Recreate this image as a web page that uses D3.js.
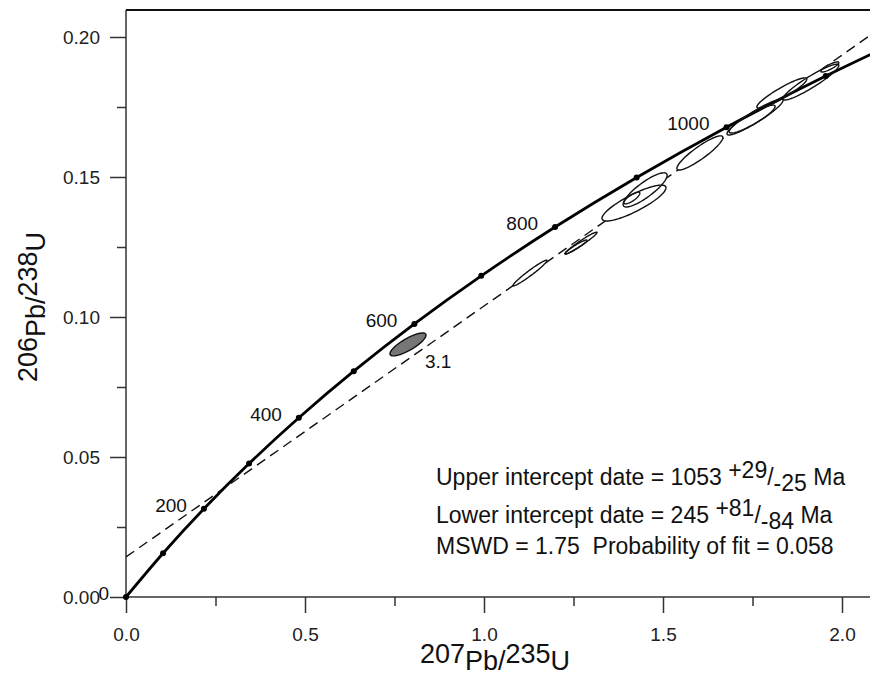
<!DOCTYPE html>
<html>
<head>
<meta charset="utf-8">
<script src="https://cdn.jsdelivr.net/npm/d3@7"></script>
<style>
  body { margin: 0; background: #fff; }
  svg { font-family: "Liberation Sans", Arial, sans-serif; }
</style>
</head>
<body>
<svg id="chart" width="870" height="678"></svg>
<script>
// concordia ages (Ma) and their ratios
const ages = [0, 100, 200, 300, 400, 500, 600, 700, 800, 900, 1000, 1100, 1200];
const concX = [0, 0.1035, 0.2177, 0.3438, 0.4828, 0.6362, 0.8055, 0.9923, 1.1985, 1.4264, 1.6774, 1.9546, 2.2604];
const concY = [0, 0.01563, 0.03151, 0.04764, 0.06402, 0.08065, 0.09754, 0.11470, 0.13213, 0.14983, 0.16780, 0.18605, 0.20459];
const labelAges = [0, 200, 400, 600, 800, 1000];

// discordia line through the intercepts
const discX = [0, 2.1];
const discY = [0.0143, 0.2025];

// error ellipses: centre, sizes, correlation
const ellX   = [0.7877, 1.1285, 1.271, 1.257, 1.419, 1.450, 1.413, 1.603, 1.757, 1.749, 1.832, 1.913, 1.966];
const ellY   = [0.0902, 0.1157, 0.1264, 0.1250, 0.1407, 0.1454, 0.1425, 0.1586, 0.1714, 0.1707, 0.1800, 0.1839, 0.1893];
const ellSx  = [0.0503, 0.0475, 0.0447, 0.0307, 0.0894, 0.0615, 0.0223, 0.0642, 0.0782, 0.0642, 0.0698, 0.0782, 0.0251];
const ellSy  = [0.0041, 0.0046, 0.0039, 0.0025, 0.0064, 0.0061, 0.0021, 0.0061, 0.0064, 0.0050, 0.0054, 0.0064, 0.0018];
const ellRho = [0.81, 0.97, 0.97, 0.95, 0.85, 0.85, 0.80, 0.90, 0.93, 0.90, 0.92, 0.93, 0.85];
const ellFilled = [true, false, false, false, false, false, false, false, false, false, false, false, false];
const ellLabel = "3.1";

const xTicks = [0, 0.5, 1.0, 1.5, 2.0];
const xMinor = [0.25, 0.75, 1.25, 1.75];
const yTicks = [0, 0.05, 0.10, 0.15, 0.20];
const yMinor = [0.025, 0.075, 0.125, 0.175];

const mLeft = 126, mTop = 10, mBottom = 597, mRight = 870;

const x = d3.scaleLinear().domain([0, 2]).range([mLeft, 842]);
const y = d3.scaleLinear().domain([0, 0.2]).range([mBottom, 37]);

const svg = d3.select("#chart");

svg.append("defs").append("clipPath").attr("id", "plot")
  .append("rect").attr("x", mLeft).attr("y", mTop).attr("width", mRight - mLeft).attr("height", mBottom - mTop);

// axes
function styleAxis(g) {
  g.select(".domain").remove();
  g.selectAll(".tick line").attr("stroke", "#333").attr("stroke-width", 1.5);
  g.selectAll(".tick text").attr("fill", "#222").style("font-size", "19px");
}

svg.append("g").attr("transform", `translate(0,${mBottom})`)
  .call(d3.axisBottom(x).tickValues(xTicks).tickFormat(d3.format(".1f")).tickSize(16).tickPadding(15))
  .call(styleAxis);
svg.append("g").attr("transform", `translate(0,${mBottom})`)
  .call(d3.axisBottom(x).tickValues(xMinor).tickFormat("").tickSize(9))
  .call(styleAxis);
svg.append("g").attr("transform", `translate(${mLeft},0)`)
  .call(d3.axisLeft(y).tickValues(yTicks).tickFormat(d3.format(".2f")).tickSize(16).tickPadding(10))
  .call(styleAxis);
svg.append("g").attr("transform", `translate(${mLeft},0)`)
  .call(d3.axisLeft(y).tickValues(yMinor).tickFormat("").tickSize(9))
  .call(styleAxis);

svg.append("line").attr("x1", mLeft).attr("x2", mRight).attr("y1", mBottom).attr("y2", mBottom)
  .attr("stroke", "#333").attr("stroke-width", 1.5);
svg.append("line").attr("x1", mLeft).attr("x2", mLeft).attr("y1", mTop).attr("y2", mBottom)
  .attr("stroke", "#333").attr("stroke-width", 1.5);
svg.append("line").attr("x1", mLeft).attr("x2", mRight).attr("y1", mTop).attr("y2", mTop)
  .attr("stroke", "#111").attr("stroke-width", 2);

const plot = svg.append("g").attr("clip-path", "url(#plot)");

// discordia
plot.append("path")
  .datum(discX.map((d, i) => [d, discY[i]]))
  .attr("d", d3.line().x(d => x(d[0])).y(d => y(d[1])))
  .attr("fill", "none").attr("stroke", "#111").attr("stroke-width", 1.4)
  .attr("stroke-dasharray", "10,6");

// ellipses
const ellipses = ellX.map((cx, i) => {
  const pts = [];
  const r = ellRho[i], s = Math.sqrt(1 - r * r);
  for (let k = 0; k < 72; k++) {
    const t = k / 72 * 2 * Math.PI;
    pts.push([cx + ellSx[i] * Math.cos(t), ellY[i] + ellSy[i] * (r * Math.cos(t) + s * Math.sin(t))]);
  }
  return { pts: pts, filled: ellFilled[i], cx: cx, cy: ellY[i] };
});
const ellLine = d3.line().x(d => x(d[0])).y(d => y(d[1])).curve(d3.curveLinearClosed);

plot.selectAll(".ell-fill").data(ellipses).join("path")
  .attr("class", "ell-fill")
  .attr("d", d => ellLine(d.pts))
  .attr("fill", d => d.filled ? "#767676" : "#fff")
  .attr("stroke", "none");

// concordia
const conc = ages.map((a, i) => ({ age: a, x: concX[i], y: concY[i] }));
plot.append("path")
  .datum(conc)
  .attr("d", d3.line().x(d => x(d.x)).y(d => y(d.y)).curve(d3.curveNatural))
  .attr("fill", "none").attr("stroke", "#000").attr("stroke-width", 2.8);

plot.selectAll(".ell-line").data(ellipses).join("path")
  .attr("class", "ell-line")
  .attr("d", d => ellLine(d.pts))
  .attr("fill", "none")
  .attr("stroke", "#111").attr("stroke-width", 1.4);

svg.selectAll(".age-dot").data(conc.filter(d => d.x <= 2.07)).join("circle")
  .attr("class", "age-dot")
  .attr("cx", d => x(d.x)).attr("cy", d => y(d.y)).attr("r", 3)
  .attr("fill", "#000");

svg.selectAll(".age-label").data(conc.filter(d => labelAges.includes(d.age))).join("text")
  .attr("class", "age-label")
  .attr("x", d => x(d.x) - 17).attr("y", d => y(d.y) + 3)
  .attr("text-anchor", "end")
  .style("font-size", "19px").attr("fill", "#111")
  .text(d => d.age);

// label of the filled ellipse
const fe = ellipses.find(d => d.filled);
svg.append("text")
  .attr("x", x(fe.cx) + 17).attr("y", y(fe.cy) + 24)
  .style("font-size", "19px").attr("fill", "#111")
  .text(ellLabel);

// axis titles
const xt = svg.append("text")
  .attr("x", 495).attr("y", 663)
  .attr("text-anchor", "middle").style("font-size", "27px").attr("fill", "#111");
xt.append("tspan").text("207");
xt.append("tspan").attr("dy", 7).text("Pb/");
xt.append("tspan").attr("dy", -7).text("235");
xt.append("tspan").attr("dy", 7).text("U");

const yt = svg.append("text")
  .attr("transform", "translate(45,307) rotate(-90)")
  .attr("y", -8)
  .attr("text-anchor", "middle").style("font-size", "27px").attr("fill", "#111");
yt.append("tspan").text("206");
yt.append("tspan").attr("dy", 8).text("Pb/");
yt.append("tspan").attr("dy", -8).text("238");
yt.append("tspan").attr("dy", 8).text("U");

// result text
const note = svg.append("g").style("font-size", "23px").attr("fill", "#111");
const l1 = note.append("text").attr("x", 436).attr("y", 485);
l1.append("tspan").text("Upper intercept date = 1053 ");
l1.append("tspan").attr("dy", -7).text("+29");
l1.append("tspan").attr("dy", 7).text("/");
l1.append("tspan").attr("dy", 6).text("-25");
l1.append("tspan").attr("dy", -6).text(" Ma");
const l2 = note.append("text").attr("x", 436).attr("y", 523);
l2.append("tspan").text("Lower intercept date = 245 ");
l2.append("tspan").attr("dy", -7).text("+81");
l2.append("tspan").attr("dy", 7).text("/");
l2.append("tspan").attr("dy", 6).text("-84");
l2.append("tspan").attr("dy", -6).text(" Ma");
note.append("text").attr("x", 436).attr("y", 554)
  .style("white-space", "pre")
  .text("MSWD = 1.75  Probability of fit = 0.058");
</script>
</body>
</html>
